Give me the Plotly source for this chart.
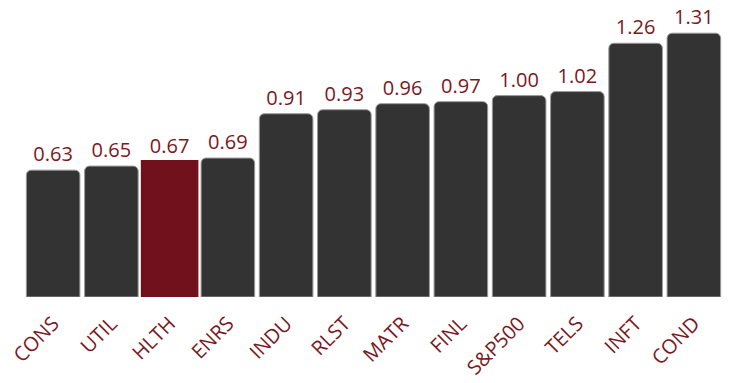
import plotly.graph_objects as go

categories = ["CONS", "UTIL", "HLTH", "ENRS", "INDU", "RLST", "MATR", "FINL", "S&P500", "TELS", "INFT", "COND"]
values = [0.63, 0.65, 0.67, 0.69, 0.91, 0.93, 0.96, 0.97, 1.00, 1.02, 1.26, 1.31]
highlight = "HLTH"

dark_vals = [v if c != highlight else None for c, v in zip(categories, values)]
hl_vals = [v if c == highlight else None for c, v in zip(categories, values)]
labels = [f"{v:.2f}" for v in values]

RED = "#7a1823"
FONT = "'Open Sans', sans-serif"

fig = go.Figure()
fig.add_trace(go.Bar(
    x=categories, y=dark_vals,
    marker=dict(color="#333333", line=dict(color="#9a9a9a", width=1), cornerradius=5),
    text=[l if c != highlight else "" for c, l in zip(categories, labels)],
    textposition="outside", textfont=dict(color=RED, size=20, family=FONT),
    cliponaxis=False, width=0.92, constraintext="none",
))
fig.add_trace(go.Bar(
    x=categories, y=hl_vals,
    marker=dict(color="#70111c", line=dict(color="#70111c", width=4)),
    text=[l if c == highlight else "" for c, l in zip(categories, labels)],
    textposition="outside", textfont=dict(color=RED, size=20, family=FONT),
    cliponaxis=False, width=0.92, constraintext="none",
))

fig.update_layout(
    width=735, height=383,
    margin=dict(l=24, r=12, t=5, b=86, autoexpand=False),
    barmode="overlay",
    showlegend=False,
    plot_bgcolor="white", paper_bgcolor="white",
    xaxis=dict(tickangle=-45, tickfont=dict(color=RED, size=20, family=FONT),
               showgrid=False, showline=False, ticks="", ticklen=0,
               ticklabelstandoff=10, automargin=False),
    yaxis=dict(range=[0, 1.45], visible=False, showgrid=False, automargin=False),
)
fig.write_html("out.html")
